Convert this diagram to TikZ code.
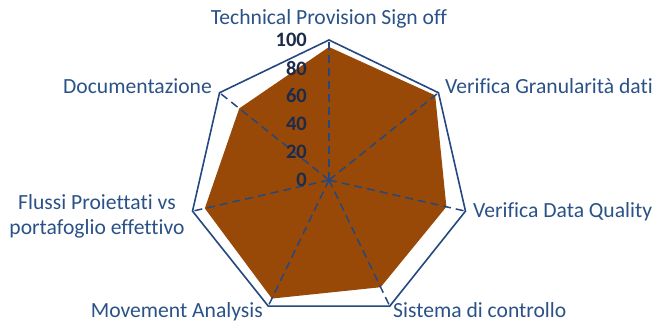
\documentclass[tikz,border=0pt]{standalone}
\usepackage{fontspec}
\setmainfont{Carlito}[Ligatures={CommonOff}]
\definecolor{axisblue}{HTML}{24487F}
\definecolor{labelblue}{HTML}{2A5286}
\definecolor{tickdark}{HTML}{1C2B4A}
\definecolor{areabrown}{HTML}{984807}
\begin{document}
\begin{tikzpicture}[x=1pt,y=1pt,
  axisline/.style={draw=axisblue, line width=1.6pt, line join=miter},
  spoke/.style={draw=axisblue, line width=1.5pt, dash pattern=on 8pt off 5pt},
  cat/.style={text=labelblue, font=\fontsize{21.6}{25}\selectfont, inner sep=0pt},
  ticklab/.style={text=tickdark, font=\bfseries\fontsize{20.5}{24}\selectfont, inner sep=0pt, anchor=east}]
\useasboundingbox (0,0) rectangle (655,325);
\coordinate (c) at (329,145);
\foreach \i in {0,...,6} {
  \path (c) ++({90-\i*360/7}:140) coordinate (v\i);
}
\foreach \v [count=\i from 0] in {95,97,86,85,94,91,82} {
  \path (c) ++({90-\i*360/7}:{\v*1.4}) coordinate (d\i);
}
\fill[areabrown] (d0) -- (d1) -- (d2) -- (d3) -- (d4) -- (d5) -- (d6) -- cycle;
\foreach \i in {0,...,6} {
  \draw[spoke] (c) -- (v\i);
}
\draw[axisline] (v0) -- (v1) -- (v2) -- (v3) -- (v4) -- (v5) -- (v6) -- cycle;
\foreach \t in {0,20,40,60,80,100} {
  \node[ticklab] (t\t) at (307,{145+\t*1.4}) {\t};
}
\node[cat, anchor=base] (l0) at (329,301) {Technical Provision Sign off};
\node[cat, anchor=base west] (l1) at (445,232) {Verifica Granularità dati};
\node[cat, anchor=base west] (l2) at (473,108) {Verifica Data Quality};
\node[cat, anchor=base west] (l3) at (393,8) {Sistema di controllo};
\node[cat, anchor=base east] (l4) at (263,8) {Movement Analysis};
\node[cat, align=center, anchor=center] (l5) at (97,109) {Flussi Proiettati vs\\portafoglio effettivo};
\node[cat, anchor=base east] (l6) at (212,232) {Documentazione};
\end{tikzpicture}
\end{document}
